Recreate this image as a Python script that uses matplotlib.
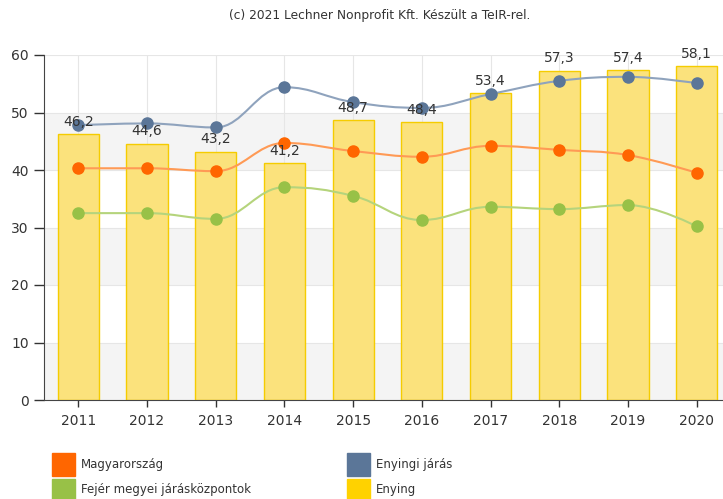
import numpy as np
import matplotlib.pyplot as plt
from matplotlib.path import Path
from matplotlib.patches import PathPatch, Rectangle

years = ['2011', '2012', '2013', '2014', '2015', '2016', '2017', '2018', '2019', '2020']
enying = [46.2, 44.6, 43.2, 41.2, 48.7, 48.4, 53.4, 57.3, 57.4, 58.1]
enyingi_jaras = [47.8, 48.1, 47.4, 54.4, 51.8, 50.8, 53.2, 55.5, 56.2, 55.1]
magyarorszag = [40.3, 40.3, 39.8, 44.7, 43.3, 42.3, 44.2, 43.5, 42.6, 39.5]
fejer = [32.5, 32.5, 31.5, 37.0, 35.5, 31.3, 33.6, 33.2, 33.9, 30.2]


def spline_path(xs, ys, smoothing=1.5):
    # highcharts-style spline through the points
    n = len(xs)
    verts = [(xs[0], ys[0])]
    codes = [Path.MOVETO]
    left = [None] * n
    right = [None] * n
    denom = smoothing + 1
    for i in range(n):
        x, y = xs[i], ys[i]
        if i == 0 or i == n - 1:
            left[i] = (x, y)
            right[i] = (x, y)
            continue
        lx, ly = xs[i - 1], ys[i - 1]
        nx, ny = xs[i + 1], ys[i + 1]
        lcx = (smoothing * x + lx) / denom
        lcy = (smoothing * y + ly) / denom
        rcx = (smoothing * x + nx) / denom
        rcy = (smoothing * y + ny) / denom
        corr = (rcy - lcy) * (rcx - x) / (rcx - lcx) + y - rcy
        lcy += corr
        rcy += corr
        if lcy > ly and lcy > y:
            lcy = max(ly, y); rcy = 2 * y - lcy
        elif lcy < ly and lcy < y:
            lcy = min(ly, y); rcy = 2 * y - lcy
        if rcy > ny and rcy > y:
            rcy = max(ny, y); lcy = 2 * y - rcy
        elif rcy < ny and rcy < y:
            rcy = min(ny, y); lcy = 2 * y - rcy
        left[i] = (lcx, lcy)
        right[i] = (rcx, rcy)
    for i in range(1, n):
        verts += [right[i - 1], left[i], (xs[i], ys[i])]
        codes += [Path.CURVE4] * 3
    return Path(verts, codes)


fig = plt.figure(figsize=(7.23, 4.99), dpi=100)
ax = fig.add_axes([44 / 723, 1 - 400 / 499, 687 / 723, 345 / 499])
x = np.arange(len(years))

for lo in (0, 20, 40):
    ax.axhspan(lo, lo + 10, color='#f4f4f4', zorder=0, lw=0)
for v in range(0, 61, 10):
    ax.axhline(v, color='#e6e6e6', lw=0.8, zorder=0.5)
for xi in x:
    ax.axvline(xi, color='#e6e6e6', lw=0.8, zorder=0.5)

ax.bar(x, enying, width=0.6, color='#fbe27c', edgecolor='#f5cc00', lw=1, zorder=1)
for xi, v in zip(x, enying):
    ax.text(xi, v + 0.9, f'{v:.1f}'.replace('.', ','), ha='center', va='bottom',
            fontsize=10, color='#333333', zorder=10)

series = [(enyingi_jaras, '#5b7698', '#8fa3bd'),
          (magyarorszag, '#ff6600', '#ff9a55'),
          (fejer, '#98c147', '#b5d47c')]
for vals, c, lc in series:
    ax.add_patch(PathPatch(spline_path(list(x), vals), fill=False, edgecolor=lc, lw=1.5, zorder=3))
    ax.plot(x, vals, 'o', color=c, ms=8, mec=c, zorder=4)

ax.set_xlim(-0.5, 9.5)
ax.set_ylim(0, 60)
ax.set_yticks(range(0, 61, 10))
ax.set_xticks(x)
ax.set_xticklabels(years)
ax.tick_params(axis='both', labelsize=10, colors='#333333', width=1)
ax.tick_params(axis='y', length=7, pad=4)
ax.tick_params(axis='x', length=5, pad=5)
for s in ('top', 'right'):
    ax.spines[s].set_visible(False)
ax.spines['left'].set_color('#444444')
ax.spines['bottom'].set_color('#444444')

fig.text(380 / 723, 1 - 16 / 499, '(c) 2021 Lechner Nonprofit Kft. Készült a TeIR-rel.',
         ha='center', va='center', fontsize=8.8, color='#333333')

legend = [('Magyarország', '#ff6600', 52, 464.5),
          ('Enyingi járás', '#5b7698', 347, 464.5),
          ('Fejér megyei járásközpontok', '#98c147', 52, 490),
          ('Enying', '#ffd200', 347, 490)]
for name, c, lx, ly in legend:
    fig.add_artist(Rectangle((lx / 723, 1 - (ly + 11.5) / 499), 23 / 723, 23 / 499,
                             transform=fig.transFigure, color=c))
    fig.text((lx + 29) / 723, 1 - ly / 499, name, ha='left', va='center',
             fontsize=8.5, color='#333333')

fig.savefig('out.png', dpi=100)
